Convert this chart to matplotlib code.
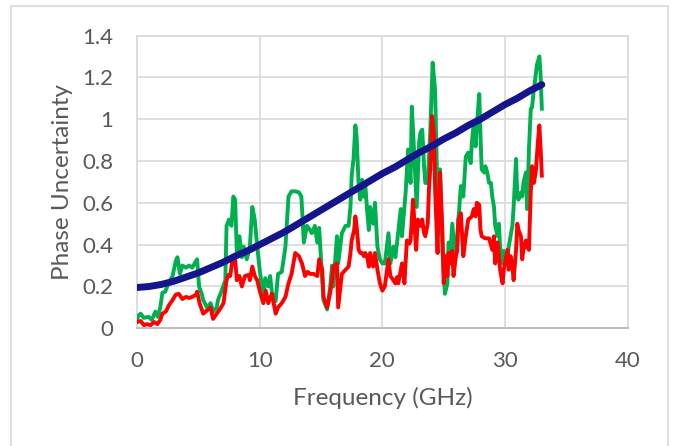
import matplotlib
matplotlib.use("Agg")
import matplotlib.pyplot as plt
from matplotlib.patches import Rectangle

plt.rcParams['font.family'] = ['Lato', 'DejaVu Sans']

# ---------------- data ----------------
green_x = [0.0, 0.1, 0.3, 0.55, 0.95, 1.2, 1.5, 1.7, 1.9, 2.07, 2.3, 2.6, 2.9, 3.15, 3.3, 3.5, 3.7, 4.0,
           4.25, 4.5, 4.8, 4.9, 5.06, 5.3, 5.4, 5.7, 6.0, 6.2, 6.5, 6.6, 6.9, 7.2, 7.3, 7.5, 7.7, 7.85,
           8.0, 8.14, 8.35, 8.55, 8.7, 8.95, 9.2, 9.4, 9.6, 9.8, 10.0, 10.3, 10.45, 10.7, 10.85, 11.0,
           11.3, 11.5, 11.8, 12.1, 12.35, 12.6, 12.9, 13.2, 13.4, 13.5, 13.6, 13.85, 14.1, 14.25, 14.5,
           14.7, 14.85, 15.0, 15.2, 15.5, 15.75, 15.9, 16.0, 16.3, 16.4, 16.7, 17.0, 17.25, 17.4, 17.5,
           17.65, 17.8, 17.9, 18.07, 18.2, 18.35, 18.5, 18.6, 18.75, 18.9, 19.0, 19.25, 19.4, 19.6,
           19.8, 20.0, 20.2, 20.5, 20.65, 20.9, 21.06, 21.2, 21.5, 21.6, 21.9, 22.1, 22.3, 22.4, 22.55,
           22.8, 23.0, 23.1, 23.25, 23.4, 23.5, 23.7, 23.9, 24.1, 24.3, 24.5, 24.7, 24.9, 25.1, 25.3,
           25.4, 25.55, 25.7, 25.9, 26.1, 26.4, 26.6, 26.8, 27.0, 27.2, 27.3, 27.45, 27.6, 27.7, 27.9,
           28.0, 28.1, 28.3, 28.4, 28.55, 28.7, 28.85, 28.96, 29.1, 29.2, 29.4, 29.5, 29.6, 29.8, 29.9,
           30.2, 30.3, 30.45, 30.6, 30.7, 30.9, 31.0, 31.1, 31.3, 31.4, 31.5, 31.7, 31.8, 31.95, 32.1,
           32.2, 32.35, 32.6, 32.8, 32.9, 33.0]
green_y = [0.04, 0.06, 0.07, 0.05, 0.055, 0.04, 0.08, 0.055, 0.10, 0.17, 0.175, 0.22, 0.25, 0.32, 0.34,
           0.26, 0.30, 0.29, 0.30, 0.29, 0.32, 0.33, 0.20, 0.16, 0.135, 0.10, 0.12, 0.08, 0.10, 0.135,
           0.18, 0.23, 0.49, 0.52, 0.49, 0.63, 0.615, 0.36, 0.44, 0.34, 0.39, 0.33, 0.39, 0.58, 0.52,
           0.39, 0.28, 0.15, 0.24, 0.20, 0.25, 0.17, 0.13, 0.26, 0.27, 0.39, 0.63, 0.655, 0.655, 0.65,
           0.63, 0.52, 0.41, 0.49, 0.47, 0.455, 0.49, 0.41, 0.48, 0.33, 0.135, 0.09, 0.20, 0.30, 0.20,
           0.44, 0.31, 0.455, 0.49, 0.49, 0.58, 0.73, 0.81, 0.97, 0.92, 0.68, 0.615, 0.71, 0.63, 0.695,
           0.57, 0.47, 0.58, 0.50, 0.60, 0.39, 0.33, 0.31, 0.31, 0.455, 0.31, 0.39, 0.34, 0.41, 0.57,
           0.44, 0.65, 0.855, 0.695, 1.06, 0.89, 0.58, 0.89, 0.935, 0.95, 0.775, 0.695, 0.695, 0.935,
           1.27, 1.14, 0.615, 0.76, 0.375, 0.165, 0.215, 0.41, 0.36, 0.50, 0.36, 0.44, 0.68, 0.63, 0.82,
           0.84, 0.79, 0.89, 0.98, 0.87, 0.97, 1.12, 0.92, 0.76, 0.745, 0.775, 0.745, 0.695, 0.695, 0.63,
           0.58, 0.49, 0.44, 0.50, 0.39, 0.31, 0.37, 0.33, 0.39, 0.44, 0.49, 0.58, 0.81, 0.63, 0.615,
           0.65, 0.63, 0.695, 0.745, 0.57, 0.855, 1.05, 1.055, 1.14, 1.26, 1.30, 1.21, 1.05]

red_x = [0.0, 0.3, 0.57, 0.8, 1.1, 1.4, 1.66, 1.9, 2.07, 2.35, 2.6, 2.9, 3.15, 3.4, 3.7, 4.0, 4.25, 4.5,
         4.8, 4.9, 5.1, 5.4, 5.7, 6.0, 6.2, 6.5, 6.8, 7.05, 7.3, 7.45, 7.6, 7.7, 7.85, 8.0, 8.14, 8.35,
         8.55, 8.8, 9.1, 9.2, 9.4, 9.6, 9.8, 10.0, 10.3, 10.5, 10.7, 11.0, 11.3, 11.5, 11.8, 12.1, 12.35,
         12.6, 12.9, 13.2, 13.45, 13.7, 13.9, 14.1, 14.4, 14.7, 14.85, 15.1, 15.2, 15.5, 15.75, 15.9,
         16.0, 16.3, 16.4, 16.7, 17.0, 17.25, 17.4, 17.5, 17.7, 17.8, 17.9, 18.07, 18.2, 18.35, 18.5,
         18.6, 18.75, 18.9, 19.0, 19.25, 19.4, 19.6, 19.8, 20.0, 20.2, 20.5, 20.65, 20.9, 21.06, 21.2,
         21.3, 21.5, 21.6, 21.8, 22.0, 22.2, 22.3, 22.5, 22.6, 22.75, 22.9, 23.1, 23.25, 23.4, 23.5,
         23.7, 23.8, 23.9, 24.05, 24.2, 24.3, 24.5, 24.6, 24.7, 24.9, 25.0, 25.15, 25.3, 25.4, 25.55,
         25.7, 25.8, 26.0, 26.1, 26.2, 26.4, 26.6, 26.8, 27.0, 27.3, 27.45, 27.6, 27.7, 27.9, 28.0,
         28.1, 28.4, 28.7, 28.96, 29.1, 29.2, 29.4, 29.6, 29.8, 29.9, 30.2, 30.3, 30.45, 30.6, 30.7,
         30.9, 31.0, 31.1, 31.3, 31.4, 31.5, 31.7, 31.8, 31.95, 32.1, 32.2, 32.35, 32.5, 32.7, 32.8,
         32.9, 33.0]
red_y = [0.03, 0.035, 0.015, 0.02, 0.015, 0.03, 0.02, 0.04, 0.07, 0.08, 0.11, 0.135, 0.16, 0.165, 0.14,
         0.15, 0.145, 0.15, 0.16, 0.175, 0.12, 0.07, 0.085, 0.10, 0.045, 0.07, 0.095, 0.12, 0.23, 0.255,
         0.25, 0.295, 0.345, 0.33, 0.23, 0.25, 0.20, 0.25, 0.255, 0.23, 0.295, 0.25, 0.23, 0.18, 0.12,
         0.18, 0.12, 0.165, 0.07, 0.10, 0.12, 0.15, 0.215, 0.26, 0.36, 0.345, 0.31, 0.25, 0.27, 0.26,
         0.26, 0.25, 0.33, 0.28, 0.15, 0.10, 0.17, 0.23, 0.295, 0.31, 0.10, 0.26, 0.28, 0.295, 0.36,
         0.42, 0.47, 0.535, 0.49, 0.375, 0.36, 0.36, 0.345, 0.36, 0.345, 0.295, 0.36, 0.295, 0.36, 0.28,
         0.215, 0.18, 0.20, 0.33, 0.25, 0.23, 0.215, 0.245, 0.215, 0.28, 0.31, 0.215, 0.42, 0.405, 0.42,
         0.615, 0.52, 0.375, 0.52, 0.49, 0.52, 0.455, 0.44, 0.50, 0.665, 0.76, 1.015, 0.935, 0.665, 0.36,
         0.60, 0.745, 0.455, 0.215, 0.345, 0.25, 0.36, 0.31, 0.37, 0.25, 0.345, 0.37, 0.52, 0.55, 0.345,
         0.44, 0.52, 0.535, 0.57, 0.535, 0.60, 0.59, 0.47, 0.44, 0.43, 0.43, 0.375, 0.44, 0.31, 0.41,
         0.28, 0.215, 0.28, 0.375, 0.28, 0.345, 0.30, 0.23, 0.375, 0.50, 0.47, 0.44, 0.33, 0.375, 0.42,
         0.39, 0.375, 0.65, 0.775, 0.695, 0.745, 0.905, 0.97, 0.86, 0.73]

blue_x = list(range(0, 34))
blue_y = [0.195, 0.20, 0.21, 0.225, 0.245, 0.265, 0.29, 0.315, 0.345, 0.37, 0.40, 0.43, 0.46, 0.495,
          0.53, 0.565, 0.60, 0.635, 0.67, 0.705, 0.74, 0.77, 0.805, 0.84, 0.87, 0.905, 0.935, 0.97,
          1.0, 1.035, 1.07, 1.10, 1.135, 1.165]

x_ticks = [0, 10, 20, 30, 40]
y_ticks = [0, 0.2, 0.4, 0.6, 0.8, 1.0, 1.2, 1.4]
y_tick_labels = ['0', '0.2', '0.4', '0.6', '0.8', '1', '1.2', '1.4']

# ---------------- figure ----------------
W, H = 674, 446
fig = plt.figure(figsize=(W / 100, H / 100), dpi=100)
fig.patch.set_facecolor('white')

# chart-area border
fig.add_artist(Rectangle((10.5 / W, -0.05), (668 - 10.5) / W, (446 - 6) / H + 0.05,
                         transform=fig.transFigure, fill=False, edgecolor='#d9d9d9', lw=1.2))

left, right, top, bottom = 137, 627.7, 35.5, 328.3
ax = fig.add_axes([left / W, (H - bottom) / H, (right - left) / W, (bottom - top) / H])

ax.plot(green_x, green_y, color='#00b050', lw=2.8, solid_joinstyle='round', zorder=3)
ax.plot(red_x, red_y, color='#ff0000', lw=2.8, solid_joinstyle='round', zorder=4)
ax.plot(blue_x, blue_y, color='#14148c', lw=5.0, solid_capstyle='round', zorder=5)

ax.set_xlim(0, 40)
ax.set_ylim(0, 1.4)
ax.set_xticks(x_ticks)
ax.set_yticks(y_ticks)
ax.set_yticklabels(y_tick_labels)
ax.grid(True, color='#d9d9d9', lw=1.2, zorder=0)
ax.set_axisbelow(True)
for s in ['left', 'top', 'right']:
    ax.spines[s].set_color('#d9d9d9')
    ax.spines[s].set_linewidth(1.2)
ax.spines['bottom'].set_color('#bfbfbf')
ax.spines['bottom'].set_linewidth(1.5)
ax.tick_params(length=0, labelsize=16, labelcolor='#595959')
ax.tick_params(axis='x', pad=16)
ax.tick_params(axis='y', pad=17)

ax.set_xlabel('Frequency (GHz)', fontsize=17.5, color='#595959', labelpad=12)
ax.set_ylabel('Phase Uncertainty', fontsize=17.5, color='#595959', labelpad=7)

fig.savefig('out.png', dpi=100, facecolor='white')
